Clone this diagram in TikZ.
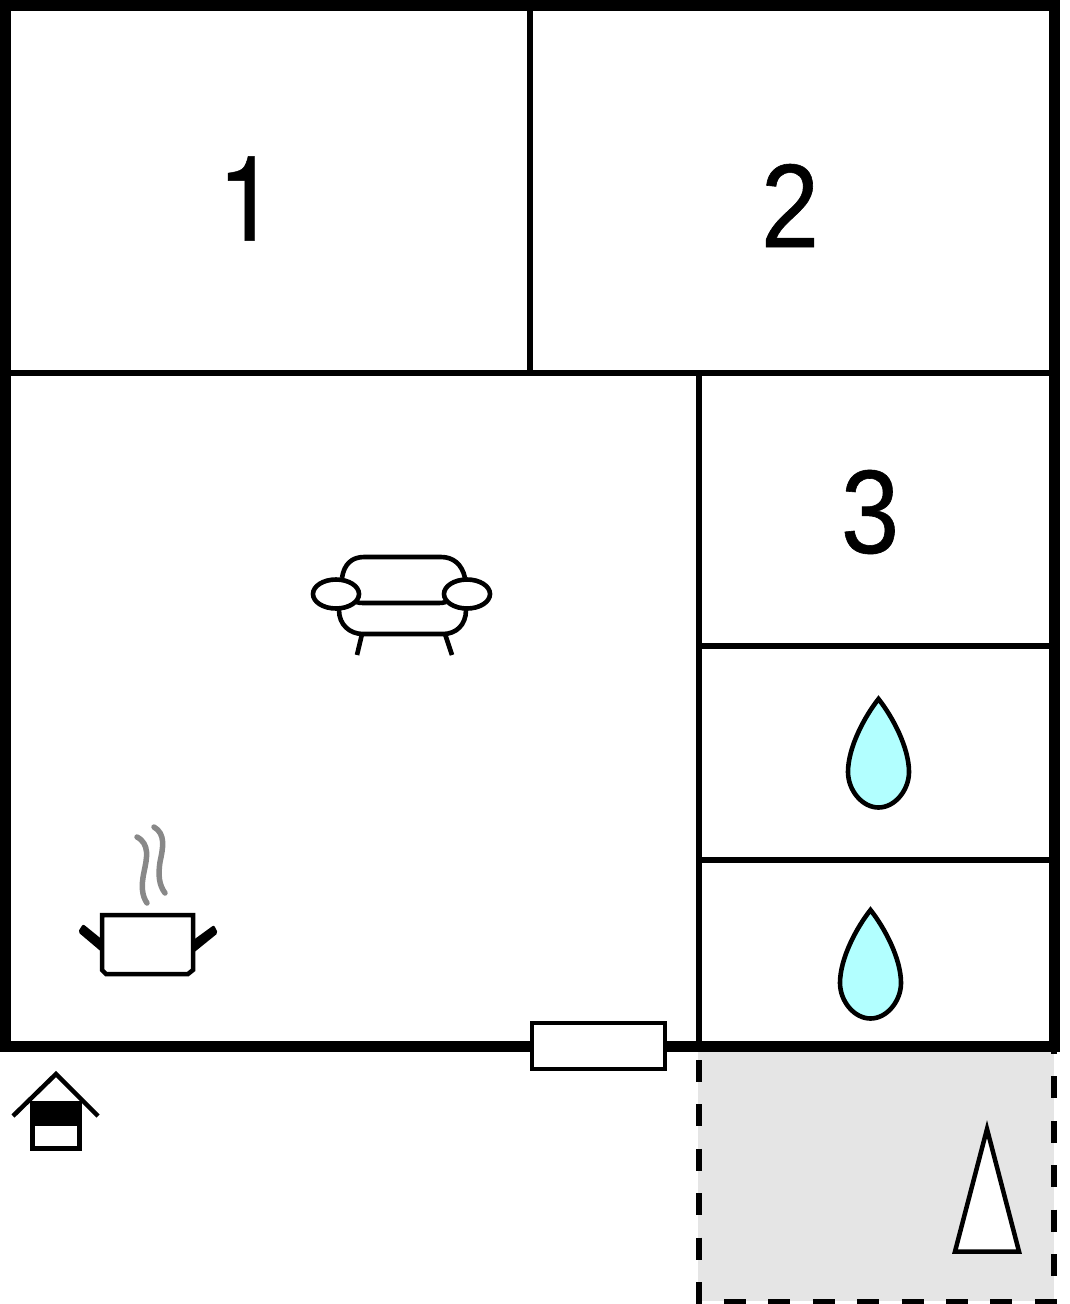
\documentclass[tikz,border=0pt]{standalone}
\usepackage{fontspec}
\setmainfont{Liberation Sans}
\newfontfamily\numberfont[FakeStretch=0.88, FakeBold=0.5]{Liberation Sans}
\newfontfamily\onefont[FakeStretch=0.9, FakeBold=0.4]{TeX Gyre Heros}
\usepackage{tikz}

\begin{document}
\begin{tikzpicture}[x=1pt, y=-1pt,
	wall/.style = {line width=11pt, draw=black, line join=miter},
	inner wall/.style = {line width=6pt, draw=black},
	terrace/.style = {line width=6pt, draw=black, dash pattern=on 22pt off 22.4pt},
	symbol/.style = {line width=4.6pt, draw=black, fill=white},
	steam/.style = {line width=5.5pt, draw=steamgray, line cap=round},
	handle/.style = {fill=black, rounded corners=2pt},
	number/.style = {inner sep=0pt, font=\numberfont\fontsize{119}{119}\selectfont}]
				\definecolor{steamgray}{HTML}{888888}
				\definecolor{dropblue}{HTML}{B2FFFF}
				\definecolor{terracegray}{HTML}{E5E5E5}
				\useasboundingbox (0,0) rectangle (1070,1304);
				% terrace
				\fill[terracegray] (698,1050) rectangle (1054,1301);
				\draw[terrace] (698.5,1060) -- (698.5,1304);
				\draw[terrace] (1054,1032) -- (1054,1290);
				\draw[terrace] (724,1301.5) -- (1058,1301.5);
				% rooms
				\draw[inner wall] (529.5,5) -- (529.5,372);
				\draw[inner wall] (5,372.5) -- (1054,372.5);
				\draw[inner wall] (698.5,372) -- (698.5,1045);
				\draw[inner wall] (698,646) -- (1054,646);
				\draw[inner wall] (698,860) -- (1054,860);
				\draw[wall] (5,5.5) rectangle (1054.5,1046);
				% window
				\draw[line width=4.5pt, fill=white] (532,1023) rectangle (665,1069);
				% numbers
				\node[number, font=\onefont\fontsize{119}{119}\selectfont] (1) at(247,198.5){1};
				\node[number] (2) at(790,205.5){2};
				\node[number] (3) at(870,512){3};
				% sofa
				\draw[line width=4.6pt] (342,578) .. controls (344,564) and (352,557) .. (364,557) -- (441,557) .. controls (453,557) and (462,564) .. (465,578);
				\draw[line width=4.6pt] (356,602) .. controls (359,603) and (361,603) .. (364,603) -- (438,603) .. controls (441,603) and (443,603) .. (446,602);
				\draw[line width=4.6pt] (339,610) .. controls (339,625) and (350,634) .. (363,634) -- (443,634) .. controls (456,634) and (466,625) .. (466,610);
				\draw[line width=4.6pt] (362,634) -- (357,655);
				\draw[line width=4.6pt] (445,634) -- (452,655);
				\draw[symbol] (336,594) ellipse [x radius=23, y radius=14.5];
				\draw[symbol] (467,594) ellipse [x radius=23, y radius=14.5];
				% pot
				\fill[handle] (78,932) -- (83,924) -- (104,941) -- (104,954) -- cycle;
				\fill[handle] (218,933) -- (214,925) -- (192,941) -- (192,954) -- cycle;
				\draw[line width=4.5pt, fill=white] (102,915) -- (193,915) -- (193,970) -- (188,974) -- (106,974) -- (102,970) -- cycle;
				\draw[steam] (137,837) .. controls (150,844) and (147,858) .. (144,872) .. controls (141,886) and (142,896) .. (147,903);
				\draw[steam] (154,827) .. controls (166,834) and (163,848) .. (160,862) .. controls (158,875) and (159,885) .. (165,893);
				% drops
				\foreach \dx/\dy in {0/0, -8/211}{
					\draw[line width=4.6pt, fill=dropblue, shift={(\dx,\dy)}] (878.5,699) .. controls (865,716) and (848,747) .. (848,772) .. controls (848,790) and (862,807.5) .. (878.5,807.5) .. controls (895,807.5) and (909,790) .. (909,772) .. controls (909,747) and (892,716) .. (878.5,699) -- cycle;
				}
				% house
				\draw[line width=5pt, fill=white] (32,1103) rectangle (79,1148);
				\fill[black] (32,1103) rectangle (79,1126);
				\draw[line width=4.5pt] (13,1116) -- (56,1074) -- (98,1116);
				% parking
				\draw[line width=4.5pt, fill=white] (955,1251.5) -- (987,1129) -- (1019,1251.5) -- cycle;
			\end{tikzpicture}
\end{document}
